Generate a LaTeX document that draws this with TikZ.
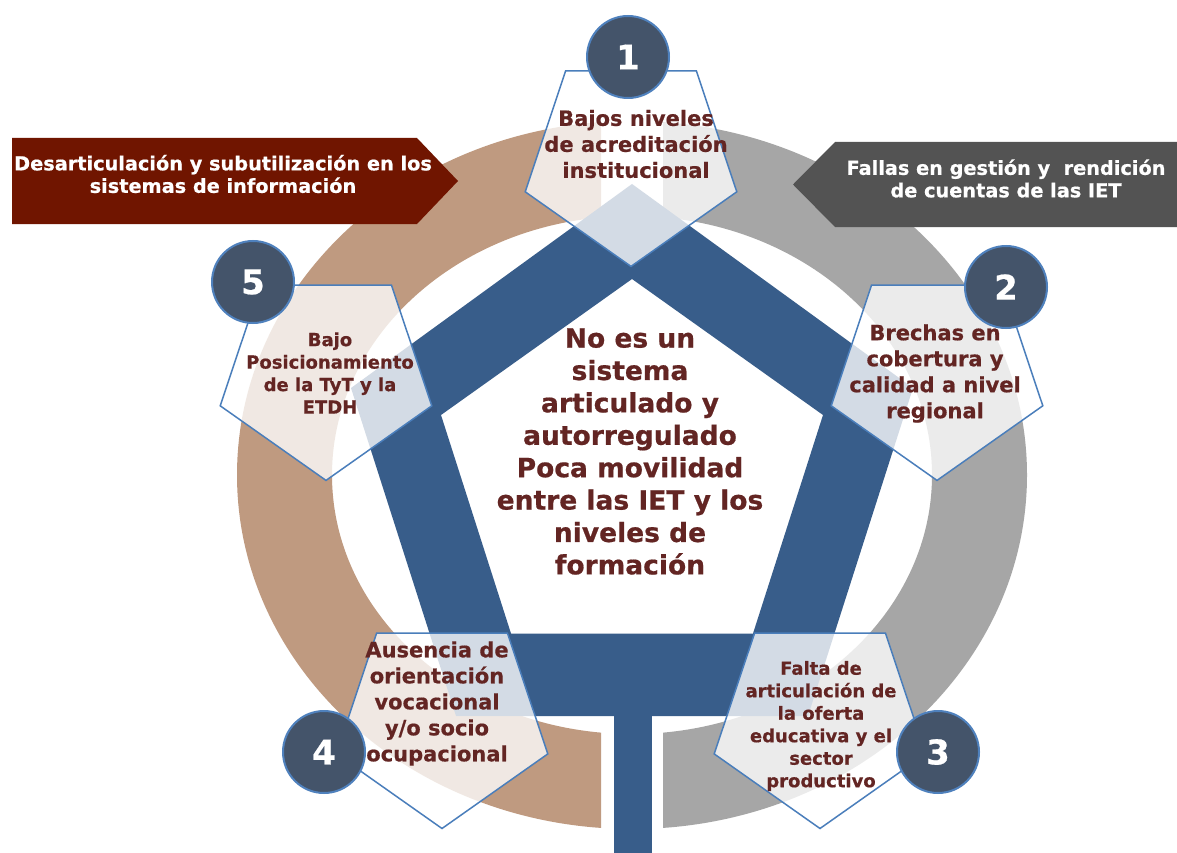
\documentclass[tikz,border=0pt]{standalone}
\usepackage{fontspec}
\setmainfont{DejaVu Sans}[BoldFeatures={FakeBold=0.6}]
\definecolor{ringbrown}{HTML}{BF9A80}
\definecolor{ringgray}{HTML}{A6A6A6}
\definecolor{bandblue}{HTML}{385D8A}
\definecolor{circfill}{HTML}{44546A}
\definecolor{circline}{HTML}{4F81BD}
\definecolor{pentline}{HTML}{4A7EBB}
\definecolor{txtmaroon}{HTML}{632523}
\definecolor{bannerred}{HTML}{701500}
\definecolor{bannergray}{HTML}{535353}
\newcommand{\dpent}[2]{\draw[pentbox] (#1-65.4,#2-87.4) -- (#1+65.4,#2-87.4) -- (#1+105.8,#2+33.4) -- (#1,#2+108) -- (#1-105.8,#2+33.4) -- cycle;}
\begin{document}
\begin{tikzpicture}[x=1pt,y=-1pt,
  pentbox/.style={draw=pentline, line width=1.5pt, fill=white, fill opacity=0.78, line join=miter},
  numcirc/.style={circle, draw=circline, line width=2pt, fill=circfill, minimum size=82pt, inner sep=0pt, text=white, font=\bfseries\fontsize{34}{34}\selectfont},
  ptext/.style={align=center, text=txtmaroon, inner sep=0pt, font=\bfseries\fontsize{21}{26}\selectfont},
  ptextsmall/.style={align=center, text=txtmaroon, inner sep=0pt, font=\bfseries\fontsize{18}{22.5}\selectfont},
  ctext/.style={align=center, text=txtmaroon, inner sep=0pt, font=\bfseries\fontsize{26.5}{32.4}\selectfont},
  btext/.style={align=center, text=white, inner sep=0pt, font=\bfseries\fontsize{19.3}{22.5}\selectfont}
]
\useasboundingbox (0,0) rectangle (1177,853);
\fill[white] (0,0) rectangle (1177,853);
% ring halves
\begin{scope}
  \clip (0,0) rectangle (601,853);
  \fill[ringbrown, even odd rule] (632,475) ellipse [x radius=395pt, y radius=354pt]
      (632,475) ellipse [x radius=300pt, y radius=259pt];
\end{scope}
\begin{scope}
  \clip (663,0) rectangle (1177,853);
  \fill[ringgray, even odd rule] (632,475) ellipse [x radius=395pt, y radius=354pt]
      (632,475) ellipse [x radius=300pt, y radius=259pt];
\end{scope}
% blue pentagon band and stem
\fill[bandblue, even odd rule] (632,184) -- (913,388) -- (808,716) -- (456,716) -- (351,388) -- cycle
   (632,279) -- (823,415) -- (753,633.5) -- (511,633.5) -- (441,415) -- cycle;
\fill[bandblue] (614,710) rectangle (652,853);
% banners
\fill[bannerred] (12,138) -- (417,138) -- (458,181) -- (417,224) -- (12,224) -- cycle;
\fill[bannergray] (835,142) -- (1177,142) -- (1177,227) -- (835,227) -- (793,184.5) -- cycle;
\node[btext] (bl) at (223,174) {Desarticulación y subutilización en los\\sistemas de información};
\node[btext] (br) at (1006,178.5) {Fallas en gestión y~ rendición\\de cuentas de las IET};
% small pentagons
\dpent{631}{158.4}
\dpent{937}{372.4}
\dpent{326}{372.4}
\dpent{442}{720.5}
\dpent{820}{720.5}
% number circles
\node[numcirc] (c1) at (628,57) {1};
\node[numcirc] (c2) at (1006,287) {2};
\node[numcirc] (c3) at (938,752) {3};
\node[numcirc] (c4) at (324,752) {4};
\node[numcirc] (c5) at (253,282) {5};
% texts
\node[ptext] (t1) at (636,144) {Bajos niveles\\de acreditación\\institucional};
\node[ptext] (t2) at (935,373.5) {Brechas en\\cobertura y\\calidad a nivel\\regional};
\node[ptextsmall] (t5) at (330,373) {Bajo\\Posicionamiento\\de la TyT y la\\ETDH};
\node[ptext] (t4) at (437,703.5) {Ausencia de\\orientación\\vocacional\\y/o socio\\ocupacional};
\node[ptextsmall] (t3) at (821,726) {Falta de\\articulación de\\la oferta\\educativa y el\\sector\\productivo};
\node[ctext] (ct) at (630,451.5) {No es un\\sistema\\articulado y\\autorregulado\\Poca movilidad\\entre las IET y los\\niveles de\\formación};
\end{tikzpicture}
\end{document}
